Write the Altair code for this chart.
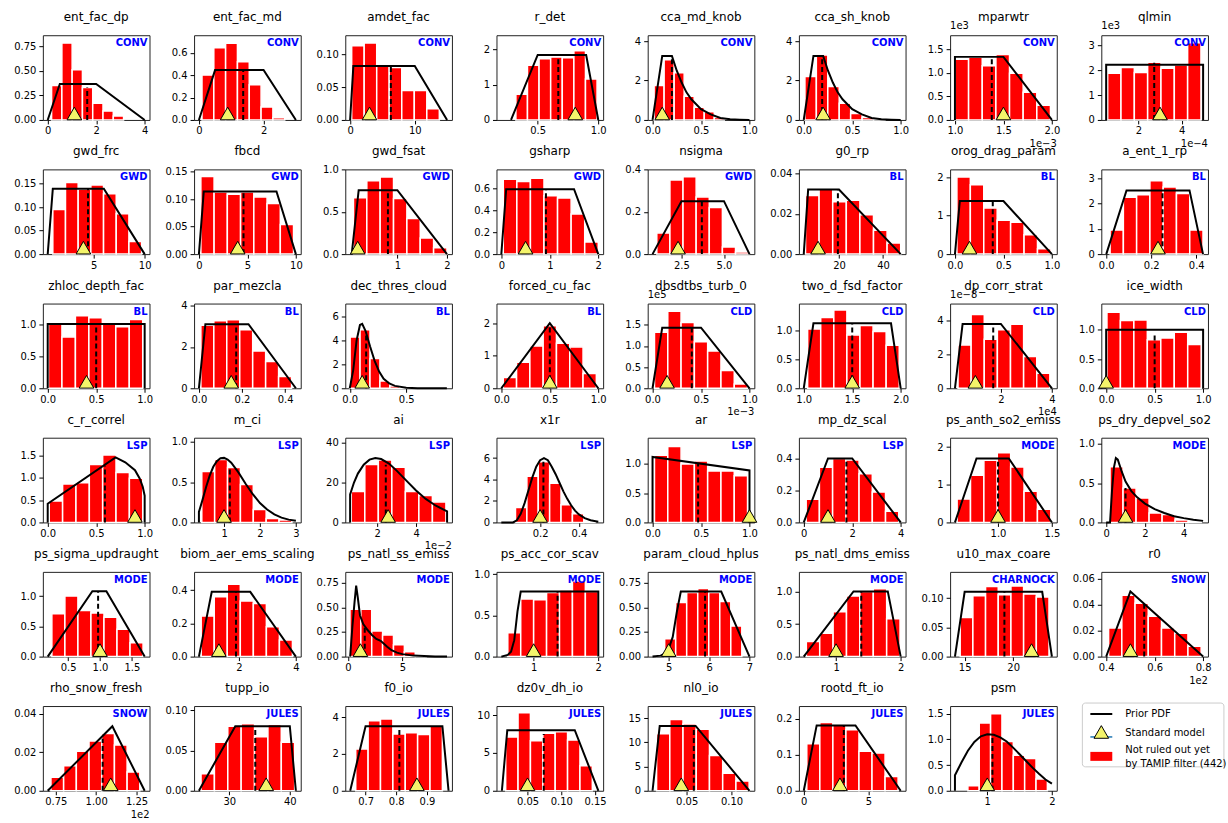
import altair as alt
import pandas as pd

W, H = 107, 85

NAMES = ["ent_fac_dp", "ent_fac_md", "amdet_fac", "r_det", "cca_md_knob", "cca_sh_knob", "mparwtr", "qlmin",
         "gwd_frc", "fbcd", "gwd_fsat", "gsharp", "nsigma", "g0_rp", "orog_drag_param", "a_ent_1_rp",
         "zhloc_depth_fac", "par_mezcla", "dec_thres_cloud", "forced_cu_fac", "dbsdtbs_turb_0", "two_d_fsd_factor", "dp_corr_strat", "ice_width",
         "c_r_correl", "m_ci", "ai", "x1r", "ar", "mp_dz_scal", "ps_anth_so2_emiss", "ps_dry_depvel_so2",
         "ps_sigma_updraught", "biom_aer_ems_scaling", "ps_natl_ss_emiss", "ps_acc_cor_scav", "param_cloud_hplus", "ps_natl_dms_emiss", "u10_max_coare", "r0",
         "rho_snow_fresh", "tupp_io", "f0_io", "dz0v_dh_io", "nl0_io", "rootd_ft_io", "psm"]

GROUPS = ["CONV"] * 8 + ["GWD"] * 5 + ["BL"] * 7 + ["CLD"] * 4 + ["LSP"] * 6 + ["MODE"] * 2 + \
         ["MODE"] * 6 + ["CHARNOCK", "SNOW"] + ["SNOW"] + ["JULES"] * 6

X_DOMAIN = [[-0.2, 4.2], [-0.15, 3.15], [-0.75, 15.75], [0.16, 1.04], [-0.05, 1.05], [-0.05, 1.05], [0.95, 2.05], [0.275, 5.225],
            [0.025, 10.475], [-0.5, 10.5], [-0.05, 2.1], [-0.1, 2.1], [0.515, 6.785], [1.8, 50.2], [-0.05, 1.05], [-0.022, 0.452],
            [-0.05, 1.05], [-0.0225, 0.4725], [-0.04, 0.905], [-0.05, 1.05], [-0.05, 1.05], [0.95, 2.05], [0.01, 4.19], [-0.05, 1.05],
            [-0.05, 1.05], [0.165, 3.135], [0.35, 5.85], [-0.025, 0.525], [-0.05, 1.05], [-0.2, 4.2], [0.555, 1.545], [-0.25, 5.25],
            [0.104, 1.776], [0.43, 4.17], [-0.25, 9.55], [0.425, 2.075], [4.48, 7.12], [0.425, 2.075], [13.5, 24.5], [0.38, 0.82],
            [0.67, 1.33], [24.2, 41.8], [0.634, 0.981], [0.004, 0.162], [0.0066, 0.1254], [-0.375, 7.875], [0.425, 2.075]]

Y_TOP = [0.86, 0.756, 0.129, 2.4, 4.3, 4.3, 1.8, 3.4,
         0.18, 0.154, 1.0, 0.77, 0.4, 0.042, 2.2, 3.35,
         1.32, 4.1, 7.1, 2.6, 2.0, 1.46, 5.0, 1.45,
         1.9, 1.05, 42.5, 7.9, 1.45, 0.53, 2.25, 1.08,
         1.4, 0.51, 0.86, 1.03, 0.86, 1.3, 0.145, 0.065,
         0.044, 0.105, 4.6, 11.2, 17.5, 0.236, 1.65]

X_TICKS = [[0, 2, 4], [0, 2], [0, 10], [0.5, 1.0], [0, 0.5, 1], [0, 0.5, 1], [1, 1.5, 2], [2, 4],
           [5, 10], [0, 5, 10], [1, 2], [0, 1, 2], [2.5, 5.0], [20, 40], [0, 0.5, 1], [0, 0.2, 0.4],
           [0, 0.5, 1], [0, 0.2, 0.4], [0, 0.5], [0, 0.5, 1], [0, 0.5, 1], [1, 1.5, 2], [2, 4], [0, 0.5, 1],
           [0, 0.5, 1], [1, 2, 3], [2, 4], [0.2, 0.4], [0, 0.5, 1], [0, 2, 4], [1.0, 1.5], [0, 2, 4],
           [0.5, 1, 1.5], [2, 4], [0, 5], [1, 2], [5, 6, 7], [1, 2], [15, 20], [0.4, 0.6, 0.8],
           [0.75, 1.0, 1.25], [30, 40], [0.7, 0.8, 0.9], [0.05, 0.1, 0.15], [0.05, 0.1], [0, 5], [1, 2]]

X_FMT = ["d", "d", "d", ".1f", ".1f", ".1f", ".1f", "d",
         "d", "d", "d", "d", ".1f", "d", ".1f", ".1f",
         ".1f", ".1f", ".1f", ".1f", ".1f", ".1f", "d", ".1f",
         ".1f", "d", "d", ".1f", ".1f", "d", ".1f", "d",
         ".1f", "d", "d", "d", "d", "d", "d", ".1f",
         ".2f", "d", ".1f", ".2f", ".2f", "d", "d"]

Y_TICKS = [[0, 0.25, 0.5, 0.75], [0, 0.2, 0.4, 0.6], [0, 0.05, 0.1], [0, 1, 2], [0, 2, 4], [0, 2, 4], [0, 0.5, 1, 1.5], [0, 1, 2, 3],
           [0, 0.05, 0.1, 0.15], [0, 0.05, 0.1, 0.15], [0, 0.5, 1], [0, 0.2, 0.4, 0.6], [0, 0.2, 0.4], [0, 0.02, 0.04], [0, 1, 2], [0, 1, 2, 3],
           [0, 0.5, 1], [0, 2, 4], [0, 2, 4, 6], [0, 1, 2], [0, 0.5, 1, 1.5], [0, 0.5, 1], [0, 2, 4], [0, 0.5, 1],
           [0, 0.5, 1, 1.5], [0, 0.5, 1], [0, 20, 40], [0, 2, 4, 6], [0, 0.5, 1], [0, 0.2, 0.4], [0, 1, 2], [0, 0.5, 1],
           [0, 0.5, 1], [0, 0.2, 0.4], [0, 0.25, 0.5, 0.75], [0, 0.5, 1], [0, 0.25, 0.5, 0.75], [0, 0.5, 1], [0, 0.05, 0.1], [0, 0.02, 0.04, 0.06],
           [0, 0.02, 0.04], [0, 0.05, 0.1], [0, 2, 4], [0, 5, 10], [0, 5, 10, 15], [0, 0.1, 0.2], [0, 0.5, 1, 1.5]]

Y_FMT = [".2f", ".1f", ".2f", "d", "d", "d", ".1f", "d",
         ".2f", ".2f", ".1f", ".1f", ".1f", ".2f", "d", "d",
         ".1f", "d", "d", "d", ".1f", ".1f", "d", ".1f",
         ".1f", ".1f", "d", "d", ".1f", ".1f", "d", ".1f",
         ".1f", ".1f", ".2f", ".1f", ".2f", ".1f", ".2f", ".2f",
         ".2f", ".2f", "d", "d", "d", ".1f", ".1f"]

# histogram: range of the 7 bins and the bar heights (density)
BIN_RANGE = [[0.16, 3.13], [0.095, 2.655], [0.24, 13.8], [0.32, 0.99], [0.016, 0.74], [0.012, 0.838], [1.0, 1.985], [0.57, 4.9],
             [1.0, 9.7], [0.2, 9.76], [0.115, 2.0], [0.04, 2.0], [1.05, 6.45], [4.8, 48.0], [0.02, 0.99], [0.017, 0.43],
             [0.008, 0.98], [0.009, 0.43], [0.003, 0.619], [0.02, 0.98], [0.02, 0.98], [1.04, 1.985], [0.32, 3.92], [0.008, 0.98],
             [0.016, 0.98], [0.38, 2.89], [0.66, 5.54], [0.073, 0.484], [0.02, 0.98], [0.1, 3.92], [0.62, 1.49], [0.2, 4.9],
             [0.245, 1.675], [0.68, 3.88], [0.18, 7.18], [0.6, 2.0], [4.9, 6.81], [0.54, 1.99], [14.54, 23.7], [0.41, 0.792],
             [0.72, 1.27], [25.35, 40.8], [0.668, 0.95], [0.0176, 0.146], [0.0165, 0.1196], [0.235, 7.3], [0.7, 1.93]]

BAR_HEIGHTS = [
    [0.35, 0.78, 0.51, 0.33, 0.17, 0.09, 0.04],
    [0.40, 0.645, 0.685, 0.52, 0.315, 0.115, 0.02],
    [0.113, 0.117, 0.084, 0.080, 0.045, 0.045, 0.017],
    [0.73, 1.55, 1.73, 1.78, 1.76, 1.96, 1.16],
    [1.75, 3.05, 2.4, 1.2, 0.65, 0.42, 0.13],
    [2.2, 3.3, 1.7, 0.85, 0.33, 0.12, 0.03],
    [1.29, 1.33, 1.15, 1.39, 0.99, 0.59, 0.31],
    [1.87, 2.1, 1.9, 2.32, 2.07, 2.2, 3.1],
    [0.095, 0.152, 0.138, 0.147, 0.128, 0.086, 0.027],
    [0.141, 0.113, 0.109, 0.113, 0.104, 0.092, 0.054],
    [0.665, 0.865, 0.91, 0.655, 0.42, 0.19, 0.075],
    [0.68, 0.66, 0.69, 0.53, 0.51, 0.365, 0.11],
    [0.10, 0.35, 0.365, 0.27, 0.22, 0.033, 0.01],
    [0.029, 0.0325, 0.026, 0.0267, 0.0195, 0.0118, 0.0055],
    [2.0, 1.8, 1.2, 0.88, 0.83, 0.5, 0.14],
    [0.95, 2.25, 2.35, 2.9, 2.65, 2.4, 0.95],
    [1.0, 0.8, 1.13, 1.1, 1.0, 0.96, 1.07],
    [3.05, 3.27, 3.32, 2.83, 1.8, 1.3, 0.57],
    [4.3, 4.9, 2.5, 0.6, 0.2, 0.05, 0.02],
    [0.33, 0.8, 1.3, 1.92, 1.38, 1.27, 0.45],
    [1.32, 1.82, 1.55, 1.1, 0.88, 0.42, 0.1],
    [1.02, 1.22, 1.35, 0.92, 1.08, 0.98, 0.74],
    [2.55, 4.35, 2.9, 3.45, 3.78, 1.87, 0.88],
    [1.3, 1.16, 1.17, 0.83, 0.86, 0.96, 0.75],
    [0.48, 0.86, 0.89, 1.3, 1.51, 1.12, 0.99],
    [0.63, 0.78, 0.68, 0.47, 0.16, 0.05, 0.03],
    [15.5, 29, 31.3, 27.7, 15.5, 13.5, 10.3],
    [1.4, 4.3, 5.65, 3.65, 1.65, 0.8, 0.1],
    [1.15, 1.3, 1.0, 1.05, 0.88, 0.88, 0.8],
    [0.145, 0.345, 0.40, 0.39, 0.305, 0.19, 0.07],
    [0.62, 1.25, 1.65, 1.85, 1.47, 0.83, 0.35],
    [0.71, 0.44, 0.31, 0.12, 0.1, 0.03, 0.01],
    [0.71, 1.0, 0.76, 0.72, 0.65, 0.45, 0.23],
    [0.245, 0.36, 0.435, 0.335, 0.32, 0.18, 0.1],
    [0.48, 0.48, 0.26, 0.22, 0.12, 0.05, 0.01],
    [0.29, 0.7, 0.69, 0.78, 0.81, 0.92, 0.79],
    [0.18, 0.55, 0.65, 0.69, 0.65, 0.56, 0.31],
    [0.23, 0.36, 0.69, 0.93, 1.0, 1.04, 0.58],
    [0.067, 0.104, 0.12, 0.106, 0.121, 0.107, 0.102],
    [0.022, 0.047, 0.041, 0.031, 0.022, 0.018, 0.008],
    [0.007, 0.013, 0.0205, 0.0258, 0.0297, 0.0238, 0.0097],
    [0.021, 0.06, 0.08, 0.083, 0.067, 0.082, 0.06],
    [2.27, 3.8, 3.9, 3.08, 3.15, 3.05, 3.5],
    [7.1, 10.3, 6.6, 7.6, 7.8, 6.7, 3.3],
    [11.8, 14.7, 13.8, 12.7, 7.3, 3.6, 2.0],
    [0.131, 0.19, 0.185, 0.17, 0.11, 0.105, 0.04],
    [0.1, 1.32, 1.5, 0.96, 0.69, 0.63, 0.23],
]

# prior PDF
PDF_X = [
    [0, 0.5, 2, 4], [0, 0.5, 2, 3], [0, 0.5, 10, 15], [0.28, 0.5, 0.9, 1.0],
    [0, 0.1, 0.2, 0.25, 0.3, 0.35, 0.4, 0.5, 0.6, 0.7, 0.8, 0.9, 1.0],
    [0, 0.1, 0.2, 0.25, 0.3, 0.35, 0.4, 0.5, 0.6, 0.7, 0.8, 0.9, 1.0],
    [1, 1, 1.5, 2], [0.5, 0.5, 5, 5],
    [0.5, 1, 6, 10], [0, 0.5, 8, 10], [0.08, 0.22, 1, 2], [0, 0.1, 1.5, 2], [0.8, 2.5, 5, 6.5], [4, 6, 20, 48],
    [0, 0.05, 0.5, 1], [0, 0.09, 0.37, 0.43],
    [0, 0, 1, 1], [0, 0.03, 0.23, 0.45],
    [0, 0.03, 0.06, 0.09, 0.11, 0.14, 0.18, 0.22, 0.26, 0.3, 0.35, 0.4, 0.5, 0.6, 0.86],
    [0, 0.5, 1], [0, 0.1, 0.5, 1], [1, 1.1, 1.9, 2], [0.2, 0.5, 2, 4], [0, 0, 1, 1],
    [0, 0, 0.7, 0.8, 0.9, 0.95, 0.98, 1, 1],
    [0.3, 0.3, 0.4, 0.5, 0.6, 0.7, 0.8, 0.9, 1.0, 1.1, 1.2, 1.4, 1.6, 1.8, 2.0, 2.2, 2.4, 2.6, 2.8, 3.0],
    [0.6, 0.6, 0.8, 1.0, 1.3, 1.6, 1.9, 2.2, 2.6, 3.0, 3.5, 4.0, 4.5, 5.0, 5.5, 5.6, 5.6],
    [0, 0.06, 0.08, 0.1, 0.12, 0.14, 0.16, 0.18, 0.2, 0.22, 0.24, 0.26, 0.28, 0.3, 0.32, 0.34, 0.36, 0.38, 0.4, 0.43, 0.46, 0.5],
    [0, 0, 1, 1], [0, 1, 2, 4], [0.6, 0.8, 1.1, 1.5],
    [0, 0.2, 0.3, 0.4, 0.5, 0.6, 0.8, 1.0, 1.3, 1.6, 2.0, 2.5, 3.0, 3.5, 4.0, 4.5, 5.0],
    [0.18, 0.88, 1.1, 1.7], [0.6, 1.05, 2.4, 4.0],
    [0.2, 0.4, 0.6, 0.75, 0.9, 1.1, 1.4, 1.8, 2.2, 2.6, 3.0, 3.3, 3.6, 4.0, 4.5, 5.0, 6.0, 7.0, 8.0, 9.1],
    [0.5, 0.6, 0.65, 0.7, 0.75, 0.8, 2.0, 2.0],
    [4.6, 4.8, 4.9, 5.0, 5.1, 5.2, 5.3, 6.3, 7.0],
    [0.5, 1.27, 1.8, 2.0], [14, 15, 23, 24], [0.4, 0.5, 0.8],
    [0.7, 1.1, 1.3], [25, 31, 40, 41], [0.65, 0.7, 0.95, 0.97], [0.012, 0.02, 0.12, 0.155], [0.012, 0.02, 0.06, 0.12],
    [0, 1, 4, 7.5],
    [0.5, 0.5, 0.6, 0.7, 0.8, 0.9, 1.0, 1.1, 1.2, 1.3, 1.4, 1.5, 1.6, 1.7, 1.8, 1.9, 2.0],
]
PDF_Y = [
    [0, 0.365, 0.365, 0], [0, 0.445, 0.445, 0], [0, 0.082, 0.082, 0], [0, 1.84, 1.84, 0],
    [0, 3.25, 3.25, 2.5, 1.9, 1.4, 1.05, 0.55, 0.28, 0.1, 0.03, 0.01, 0],
    [0, 3.25, 3.25, 2.5, 1.9, 1.4, 1.05, 0.55, 0.28, 0.1, 0.03, 0.01, 0],
    [0, 1.34, 1.34, 0], [0, 2.22, 2.22, 0],
    [0, 0.139, 0.139, 0], [0, 0.114, 0.114, 0], [0, 0.755, 0.755, 0], [0, 0.59, 0.59, 0], [0, 0.25, 0.25, 0], [0, 0.032, 0.032, 0],
    [0, 1.38, 1.38, 0], [0, 2.52, 2.52, 0],
    [0, 1, 1, 0], [0, 3.1, 3.1, 0],
    [0, 1.5, 4.0, 5.3, 5.4, 4.8, 3.5, 2.3, 1.4, 0.8, 0.4, 0.2, 0.05, 0.01, 0],
    [0, 2, 0], [0, 1.43, 1.43, 0], [0, 1.12, 1.12, 0], [0, 3.8, 3.8, 0], [0, 1, 1, 0],
    [0, 0.42, 1.46, 1.35, 1.17, 0.98, 0.8, 0.6, 0],
    [0, 0.13, 0.28, 0.44, 0.58, 0.69, 0.76, 0.795, 0.80, 0.78, 0.74, 0.62, 0.48, 0.35, 0.24, 0.16, 0.1, 0.06, 0.035, 0.02],
    [0, 14, 20, 24.5, 29, 31.5, 32.3, 31.8, 29.5, 26, 21, 16, 11.8, 8.5, 6, 5.5, 0],
    [0, 0, 0.2, 0.8, 1.8, 3.0, 4.2, 5.2, 5.8, 6.0, 5.8, 5.2, 4.5, 3.7, 2.9, 2.2, 1.6, 1.1, 0.75, 0.4, 0.2, 0.07],
    [0, 1.12, 0.89, 0], [0, 0.4, 0.4, 0], [0, 1.7, 1.7, 0],
    [0, 0, 0.4, 0.7, 0.82, 0.8, 0.65, 0.52, 0.4, 0.32, 0.24, 0.17, 0.12, 0.08, 0.055, 0.035, 0.02],
    [0, 1.08, 1.08, 0], [0, 0.39, 0.39, 0],
    [0, 0.3, 0.55, 0.72, 0.6, 0.42, 0.33, 0.27, 0.22, 0.18, 0.16, 0.13, 0.1, 0.065, 0.04, 0.025, 0.01, 0.005, 0.002, 0],
    [0, 0.02, 0.06, 0.2, 0.55, 0.79, 0.79, 0],
    [0, 0.01, 0.03, 0.08, 0.2, 0.45, 0.66, 0.66, 0],
    [0, 1.0, 1.0, 0], [0, 0.111, 0.111, 0], [0, 0.05, 0],
    [0, 0.0335, 0], [0, 0.08, 0.08, 0], [0, 3.5, 3.5, 0], [0, 8, 8, 0], [0, 13.4, 13.4, 0],
    [0, 0.182, 0.182, 0],
    [0, 0.3, 0.55, 0.78, 0.95, 1.06, 1.1, 1.09, 1.04, 0.96, 0.84, 0.71, 0.58, 0.45, 0.33, 0.22, 0.14],
]

DASH_X = [1.63, 1.37, 6.3, 0.67, 0.2, 0.19, 1.38, 2.73,
          4.45, 4.6, 0.81, 0.92, 3.7, 19.5, 0.39, 0.25,
          0.5, 0.173, 0.145, 0.5, 0.405, 1.5, 1.7, 0.5,
          0.59, 1.16, 2.44, 0.217, 0.47, 1.76, 1.0, 1.0,
          0.97, 1.9, 1.54, 1.37, 5.9, 1.39, 19.1, 0.557,
          1.04, 34.3, 0.81, 0.074, 0.058, 3.1, 1.08]
DASH_TOP = [0.33, 0.445, 0.082, 1.8, 3.2, 3.25, 1.34, 2.3,
            0.139, 0.114, 0.755, 0.59, 0.25, 0.032, 1.38, 2.52,
            1.0, 3.1, 4.7, 2.0, 1.43, 1.12, 3.8, 0.95,
            1.27, 0.68, 29, 5.7, 1.0, 0.4, 1.7, 0.44,
            1.08, 0.39, 0.3, 0.79, 0.66, 1.0, 0.111, 0.041,
            0.027, 0.08, 3.5, 7.5, 13.4, 0.182, 1.1]
STD_X = [1.1, 0.89, 3.0, 0.81, 0.1, 0.2, 1.5, 3.0,
         4.0, 4.0, 0.2, 0.5, 2.3, 10.5, 0.15, 0.23,
         0.4, 0.15, 0.11, 0.5, 0.15, 1.5, 1.0, 0.0,
         0.9, 1.0, 2.56, 0.2, 1.0, 1.0, 1.0, 1.0,
         1.0, 1.3, 1.14, 1.0, 5.0, 1.0, 21.9, 0.5,
         1.09, 36.1, 0.867, 0.05, 0.044, 2.8, 1.0]

Y_OFFSET_TEXT = {"mparwtr": "1e3", "qlmin": "1e3", "dbsdtbs_turb_0": "1e5", "dp_corr_strat": "1e\u22128"}
X_OFFSET_TEXT = {"mparwtr": "1e\u22123", "qlmin": "1e\u22124", "dbsdtbs_turb_0": "1e\u22123", "dp_corr_strat": "1e4",
                 "ai": "1e\u22122", "r0": "1e2", "rho_snow_fresh": "1e2"}

LEGEND_LABELS = ["Prior PDF", "Standard model", "Not ruled out yet", "by TAMIP filter (442)"]

FONT = "DejaVu Sans"
TRI_FILL = "#f4f46a"


def panel(i):
    name = NAMES[i]
    xs = alt.Scale(domain=X_DOMAIN[i], nice=False, zero=False)
    ys = alt.Scale(domain=[0, Y_TOP[i]], nice=False, zero=False)
    xa = alt.Axis(values=X_TICKS[i], format=X_FMT[i])
    ya = alt.Axis(values=Y_TICKS[i], format=Y_FMT[i])

    def X(f):
        return alt.X(f, type="quantitative", scale=xs, axis=xa, title=None)

    def Y(f):
        return alt.Y(f, type="quantitative", scale=ys, axis=ya, title=None)

    lo, hi = BIN_RANGE[i]
    h = BAR_HEIGHTS[i]
    n = len(h)
    w = (hi - lo) / n
    bars_df = pd.DataFrame({"x": [lo + k * w for k in range(n)],
                            "x2": [lo + (k + 1) * w for k in range(n)],
                            "y": h, "y2": [0.0] * n})
    bars = alt.Chart(bars_df).mark_rect(color="#ff0000", stroke="white", strokeWidth=1.5).encode(
        x=X("x"), x2="x2", y=Y("y"), y2="y2")

    pdf_df = pd.DataFrame({"x": PDF_X[i], "y": PDF_Y[i], "o": list(range(len(PDF_X[i])))})
    pdf = alt.Chart(pdf_df).mark_line(color="black", strokeWidth=2).encode(
        x=X("x"), y=Y("y"), order="o:Q")

    dash_df = pd.DataFrame({"x": [DASH_X[i]], "y": [0.0], "y2": [DASH_TOP[i]]})
    dash = alt.Chart(dash_df).mark_rule(color="black", strokeWidth=2, strokeDash=[5, 3]).encode(
        x=X("x"), y=Y("y"), y2="y2")

    tri_df = pd.DataFrame({"x": [STD_X[i]], "y": [0.0]})
    tri = alt.Chart(tri_df).mark_point(shape="triangle-up", filled=True, fill=TRI_FILL, stroke="black",
                                       strokeWidth=1, size=215, yOffset=-6.5, opacity=1).encode(
        x=X("x"), y=Y("y"))

    lab_df = pd.DataFrame({"t": [GROUPS[i]]})
    lab = alt.Chart(lab_df).mark_text(align="right", baseline="top", color="#0000ff", fontWeight="bold",
                                      fontSize=10, font=FONT).encode(
        x=alt.value(W - 2), y=alt.value(3), text="t:N")

    title_df = pd.DataFrame({"t": [name]})
    title = alt.Chart(title_df).mark_text(align="center", baseline="alphabetic", fontSize=12, font=FONT,
                                          color="black").encode(
        x=alt.value(W / 2), y=alt.value(-14), text="t:N")

    layers = [bars, pdf, dash, tri, lab]
    if name in Y_OFFSET_TEXT:
        d = pd.DataFrame({"t": [Y_OFFSET_TEXT[name]]})
        layers.append(alt.Chart(d).mark_text(align="left", baseline="bottom", fontSize=10, font=FONT,
                                             color="black").encode(
            x=alt.value(0), y=alt.value(-4), text="t:N"))
    layers.append(title)
    if name in X_OFFSET_TEXT:
        d = pd.DataFrame({"t": [X_OFFSET_TEXT[name]]})
        layers.append(alt.Chart(d).mark_text(align="right", baseline="top", fontSize=10, font=FONT,
                                             color="black").encode(
            x=alt.value(W), y=alt.value(H + 19), text="t:N"))

    return alt.layer(*layers).properties(width=W, height=H)


def legend_panel():
    box_df = pd.DataFrame({"k": [0]})
    box = alt.Chart(box_df).mark_rect(fill="white", stroke="#cccccc", strokeWidth=1, cornerRadius=3).encode(
        x=alt.value(-19), x2=alt.value(123), y=alt.value(-3), y2=alt.value(61))
    line = alt.Chart(box_df).mark_rule(color="black", strokeWidth=2).encode(
        x=alt.value(-11), x2=alt.value(11), y=alt.value(8))
    blue = alt.Chart(box_df).mark_rule(color="#1f77b4", strokeWidth=1.5).encode(
        x=alt.value(-11), x2=alt.value(11), y=alt.value(31))
    tri = alt.Chart(box_df).mark_point(shape="triangle-up", filled=True, fill=TRI_FILL, stroke="black",
                                       strokeWidth=1, size=215, opacity=1).encode(
        x=alt.value(0), y=alt.value(26))
    red = alt.Chart(box_df).mark_rect(color="#ff0000").encode(
        x=alt.value(-11), x2=alt.value(11), y=alt.value(46), y2=alt.value(55))
    txt_df = pd.DataFrame({"t": LEGEND_LABELS, "yy": [8, 27, 44, 58]})
    txt = alt.Chart(txt_df).mark_text(align="left", baseline="middle", fontSize=10, font=FONT,
                                      color="black").encode(
        x=alt.value(24), y=alt.Y("yy:Q", scale=None), text="t:N")
    return alt.layer(box, line, blue, tri, red, txt).properties(
        width=W, height=H, view=alt.ViewBackground(stroke="transparent"))


cells = [panel(i) for i in range(len(NAMES))] + [legend_panel()]

chart = alt.concat(*cells, columns=8, spacing={"row": 49.6, "column": 44.7}, bounds="flush").properties(
    padding={"left": 13, "top": 9, "right": 0, "bottom": 0}
).configure_view(
    stroke="#222222", strokeWidth=1
).configure_axis(
    domain=False, grid=False, tickSize=4, tickColor="#000000", tickWidth=1, labelColor="#000000",
    labelFont=FONT, labelFontSize=10, labelOverlap=False, labelFlush=False, labelBound=False
).configure_axisX(labelPadding=2).configure_axisY(labelPadding=3)

chart.save("out.html", embed_options={"renderer": "svg", "actions": False})
